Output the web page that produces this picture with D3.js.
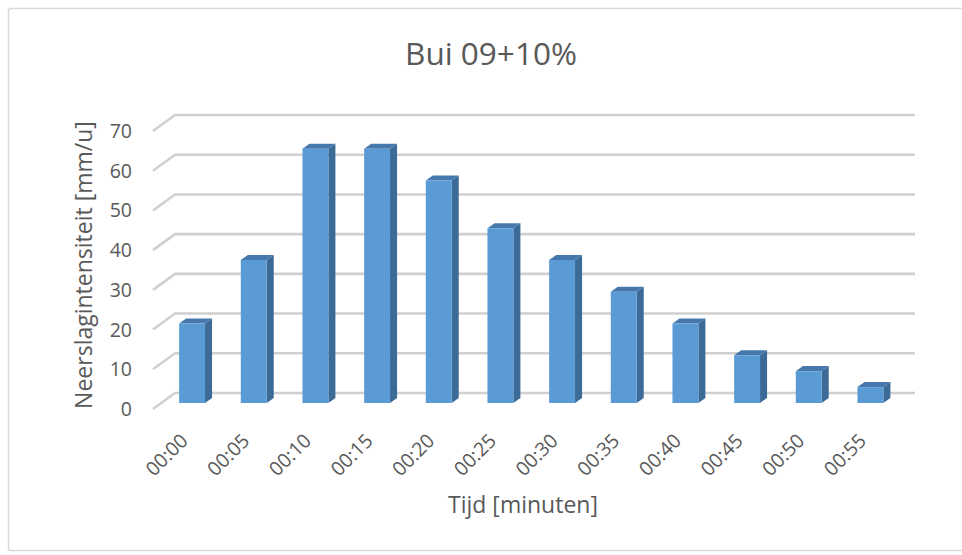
<!DOCTYPE html>
<html>
<head>
<meta charset="utf-8">
<script src="https://cdn.jsdelivr.net/npm/d3@7"></script>
<style>
  html, body { margin: 0; padding: 0; background: #ffffff; }
  svg { display: block; }
  text { font-family: "Open Sans", "DejaVu Sans", sans-serif; fill: #595959; }
</style>
</head>
<body>
<svg id="chart" width="962" height="555"></svg>
<script>
// Rain intensity per 5-minute step
const categories = ["00:00", "00:05", "00:10", "00:15", "00:20", "00:25",
                    "00:30", "00:35", "00:40", "00:45", "00:50", "00:55"];
const values = [20, 36, 64, 64, 56, 44, 36, 28, 20, 12, 8, 4];
const yTicks = [0, 10, 20, 30, 40, 50, 60, 70];
const titleText = "Bui 09+10%";
const yTitleText = "Neerslagintensiteit [mm/u]";
const xTitleText = "Tijd [minuten]";

const svg = d3.select("#chart");
const W = 962, H = 555;

// Outer chart frame
svg.append("rect")
  .attr("x", 8.5).attr("y", 8.5)
  .attr("width", W).attr("height", 542)
  .attr("rx", 2)
  .attr("fill", "#ffffff")
  .attr("stroke", "#d9d9d9")
  .attr("stroke-width", 1.5);

// Back wall of the 3D plot area
const wallLeft = 175, wallRight = 915;
const wallTop = 115, wallBottom = 393;
// Full depth of the floor (front edge relative to back wall)
const depthX = -22, depthY = 16;

const x = d3.scaleBand().domain(categories).range([wallLeft, wallRight]).padding(0);
const y = d3.scaleLinear().domain([0, 70]).range([wallBottom, wallTop]);

// Project a point on the back wall forward by fraction d of the floor depth
const proj = (px, py, d) => [px + d * depthX, py + d * depthY];

// Gridlines: a slanted segment on the side plus a line along the back wall
const grid = svg.append("g");
yTicks.forEach(t => {
  const yy = y(t);
  const p0 = proj(wallLeft, yy, 1);
  grid.append("polyline")
    .attr("points", [p0, [wallLeft, yy], [wallRight, yy]].map(p => p.join(",")).join(" "))
    .attr("fill", "none")
    .attr("stroke", "#d0d0d0")
    .attr("stroke-width", 2.6)
    .attr("stroke-linejoin", "round");
});

// Y tick labels sit at the front ends of the slanted gridlines
svg.append("g").selectAll("text")
  .data(yTicks)
  .join("text")
  .attr("x", 132)
  .attr("y", d => proj(wallLeft, y(d), 1)[1])
  .attr("dy", "0.36em")
  .attr("text-anchor", "end")
  .attr("font-size", 19.5)
  .text(d => d);

// 3D bars
const barFront = 0.625;      // depth position of the front face
const barDepth = 0.32;       // bar thickness as a fraction of floor depth
const barW = x.bandwidth() * 0.42;
const fill = { front: "#5b9bd5", side: "#3d6b97", top: "#4678ad" };

const bars = svg.append("g").selectAll("g")
  .data(categories.map((c, i) => ({ c, v: values[i] })))
  .join("g");

bars.each(function(d) {
  const g = d3.select(this);
  const cx = x(d.c) + x.bandwidth() / 2;
  const xl = cx - barW / 2, xr = cx + barW / 2;
  const yt = y(d.v), yb = y(0);
  const f = barFront, b = barFront - barDepth;
  const FL_T = proj(xl, yt, f), FR_T = proj(xr, yt, f);
  const FL_B = proj(xl, yb, f), FR_B = proj(xr, yb, f);
  const BL_T = proj(xl, yt, b), BR_T = proj(xr, yt, b);
  const BR_B = proj(xr, yb, b);
  const poly = pts => pts.map(p => p.join(",")).join(" ");
  // side face
  g.append("polygon").attr("points", poly([FR_T, BR_T, BR_B, FR_B])).attr("fill", fill.side);
  // top face
  g.append("polygon").attr("points", poly([FL_T, BL_T, BR_T, FR_T])).attr("fill", fill.top);
  // front face
  g.append("polygon").attr("points", poly([FL_T, FR_T, FR_B, FL_B])).attr("fill", fill.front);
});

// X tick labels, rotated
svg.append("g").selectAll("text")
  .data(categories)
  .join("text")
  .attr("font-size", 19.5)
  .attr("text-anchor", "end")
  .attr("transform", d => {
    const cx = x(d) + x.bandwidth() / 2;
    const p = proj(cx, y(0), barFront);
    return `translate(${p[0] - 3},${p[1] + 39}) rotate(-45)`;
  })
  .text(d => d);

// Title
svg.append("text")
  .attr("x", 491).attr("y", 65)
  .attr("text-anchor", "middle")
  .attr("font-size", 31.5)
  .text(titleText);

// Axis titles
svg.append("text")
  .attr("transform", "translate(83,265) rotate(-90)")
  .attr("text-anchor", "middle")
  .attr("dominant-baseline", "central")
  .attr("font-size", 23)
  .text(yTitleText);

svg.append("text")
  .attr("x", 523).attr("y", 513)
  .attr("text-anchor", "middle")
  .attr("font-size", 23)
  .text(xTitleText);
</script>
</body>
</html>
